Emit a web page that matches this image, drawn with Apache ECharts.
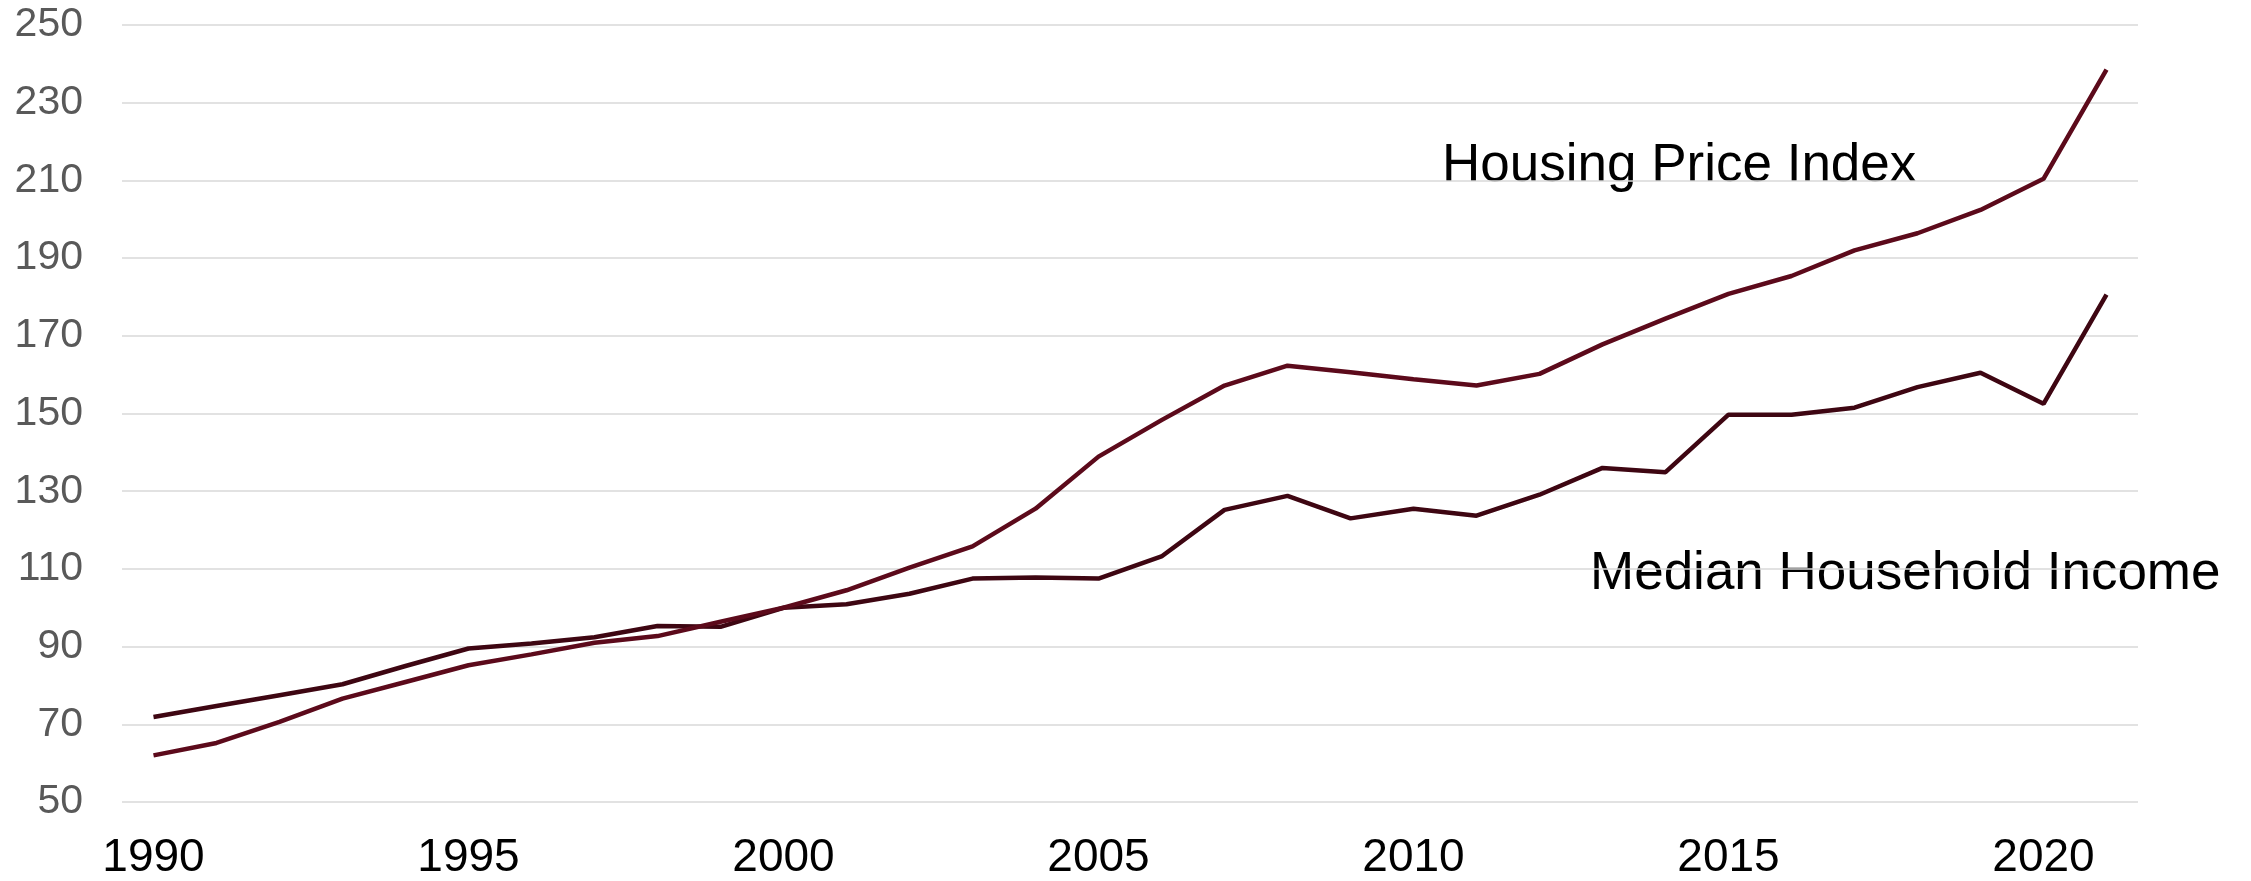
<!DOCTYPE html>
<html>
<head>
<meta charset="utf-8">
<script src="https://cdn.jsdelivr.net/npm/echarts@6/dist/echarts.min.js"></script>
<style>
  html, body { margin: 0; padding: 0; background: #fff; }
  #chart { width: 2251px; height: 881px; }
</style>
</head>
<body>
<div id="chart"></div>
<script>
// years on the x axis
var years = [];
for (var y = 1990; y <= 2021; y++) years.push(String(y));

// Housing Price Index (2000 = 100)
var housingPrice = [62.0, 65.2, 70.6, 76.6, 80.9, 85.2, 88.0, 91.0, 92.7, 96.4,
  100.0, 104.5, 110.3, 115.8, 125.5, 138.9, 148.3, 157.2, 162.3, 160.6,
  158.8, 157.2, 160.2, 167.8, 174.4, 180.8, 185.4, 192.0, 196.4, 202.4,
  210.4, 238.5];

// Median Household Income (2000 = 100)
var medianIncome = [71.9, 74.7, 77.5, 80.3, 85.0, 89.5, 90.8, 92.4, 95.3, 95.1,
  100.0, 100.9, 103.6, 107.5, 107.8, 107.5, 113.2, 125.2, 128.8, 123.0,
  125.5, 123.7, 129.1, 136.0, 134.9, 149.7, 149.7, 151.5, 156.8, 160.5,
  152.5, 180.6];

var yTicks = { min: 50, max: 250, step: 20 };

var chart = echarts.init(document.getElementById('chart'));

var option = {
  animation: false,
  backgroundColor: '#ffffff',
  textStyle: { fontFamily: 'Liberation Sans, Arial, sans-serif' },
  grid: {
    left: 122, right: 113, top: 25, bottom: 79,
    containLabel: false,
    outerBoundsMode: 'none'
  },
  xAxis: {
    type: 'category',
    data: years,
    boundaryGap: true,
    axisLine: { show: false },
    axisTick: { show: false },
    axisLabel: {
      interval: 4,
      margin: 33,
      fontSize: 46,
      color: '#000000',
      fontFamily: 'Liberation Sans'
    },
    splitLine: { show: false }
  },
  yAxis: {
    type: 'value',
    min: yTicks.min,
    max: yTicks.max,
    interval: yTicks.step,
    axisLine: { show: false },
    axisTick: { show: false },
    axisLabel: {
      margin: 39,
      fontSize: 41,
      color: '#595959',
      fontFamily: 'Liberation Sans'
    },
    splitLine: { lineStyle: { color: '#d9d9d9', width: 1.6 } }
  },
  series: [
    {
      name: 'Housing Price Index',
      type: 'line',
      data: housingPrice,
      symbol: 'none',
      lineStyle: { color: '#5c0a1b', width: 4.5 },
      z: 3
    },
    {
      name: 'Median Household Income',
      type: 'line',
      data: medianIncome,
      symbol: 'none',
      lineStyle: { color: '#3e0612', width: 4.5 },
      z: 2
    }
  ],
  graphic: [
    {
      type: 'text',
      left: 1442, top: 140,
      style: {
        text: 'Housing Price Index',
        font: '53px "Liberation Sans", Arial, sans-serif',
        fill: '#000000'
      }
    },
    {
      type: 'text',
      left: 1590, top: 548,
      style: {
        text: 'Median Household Income',
        font: '53px "Liberation Sans", Arial, sans-serif',
        fill: '#000000'
      }
    }
  ]
};

chart.setOption(option);
</script>
</body>
</html>
